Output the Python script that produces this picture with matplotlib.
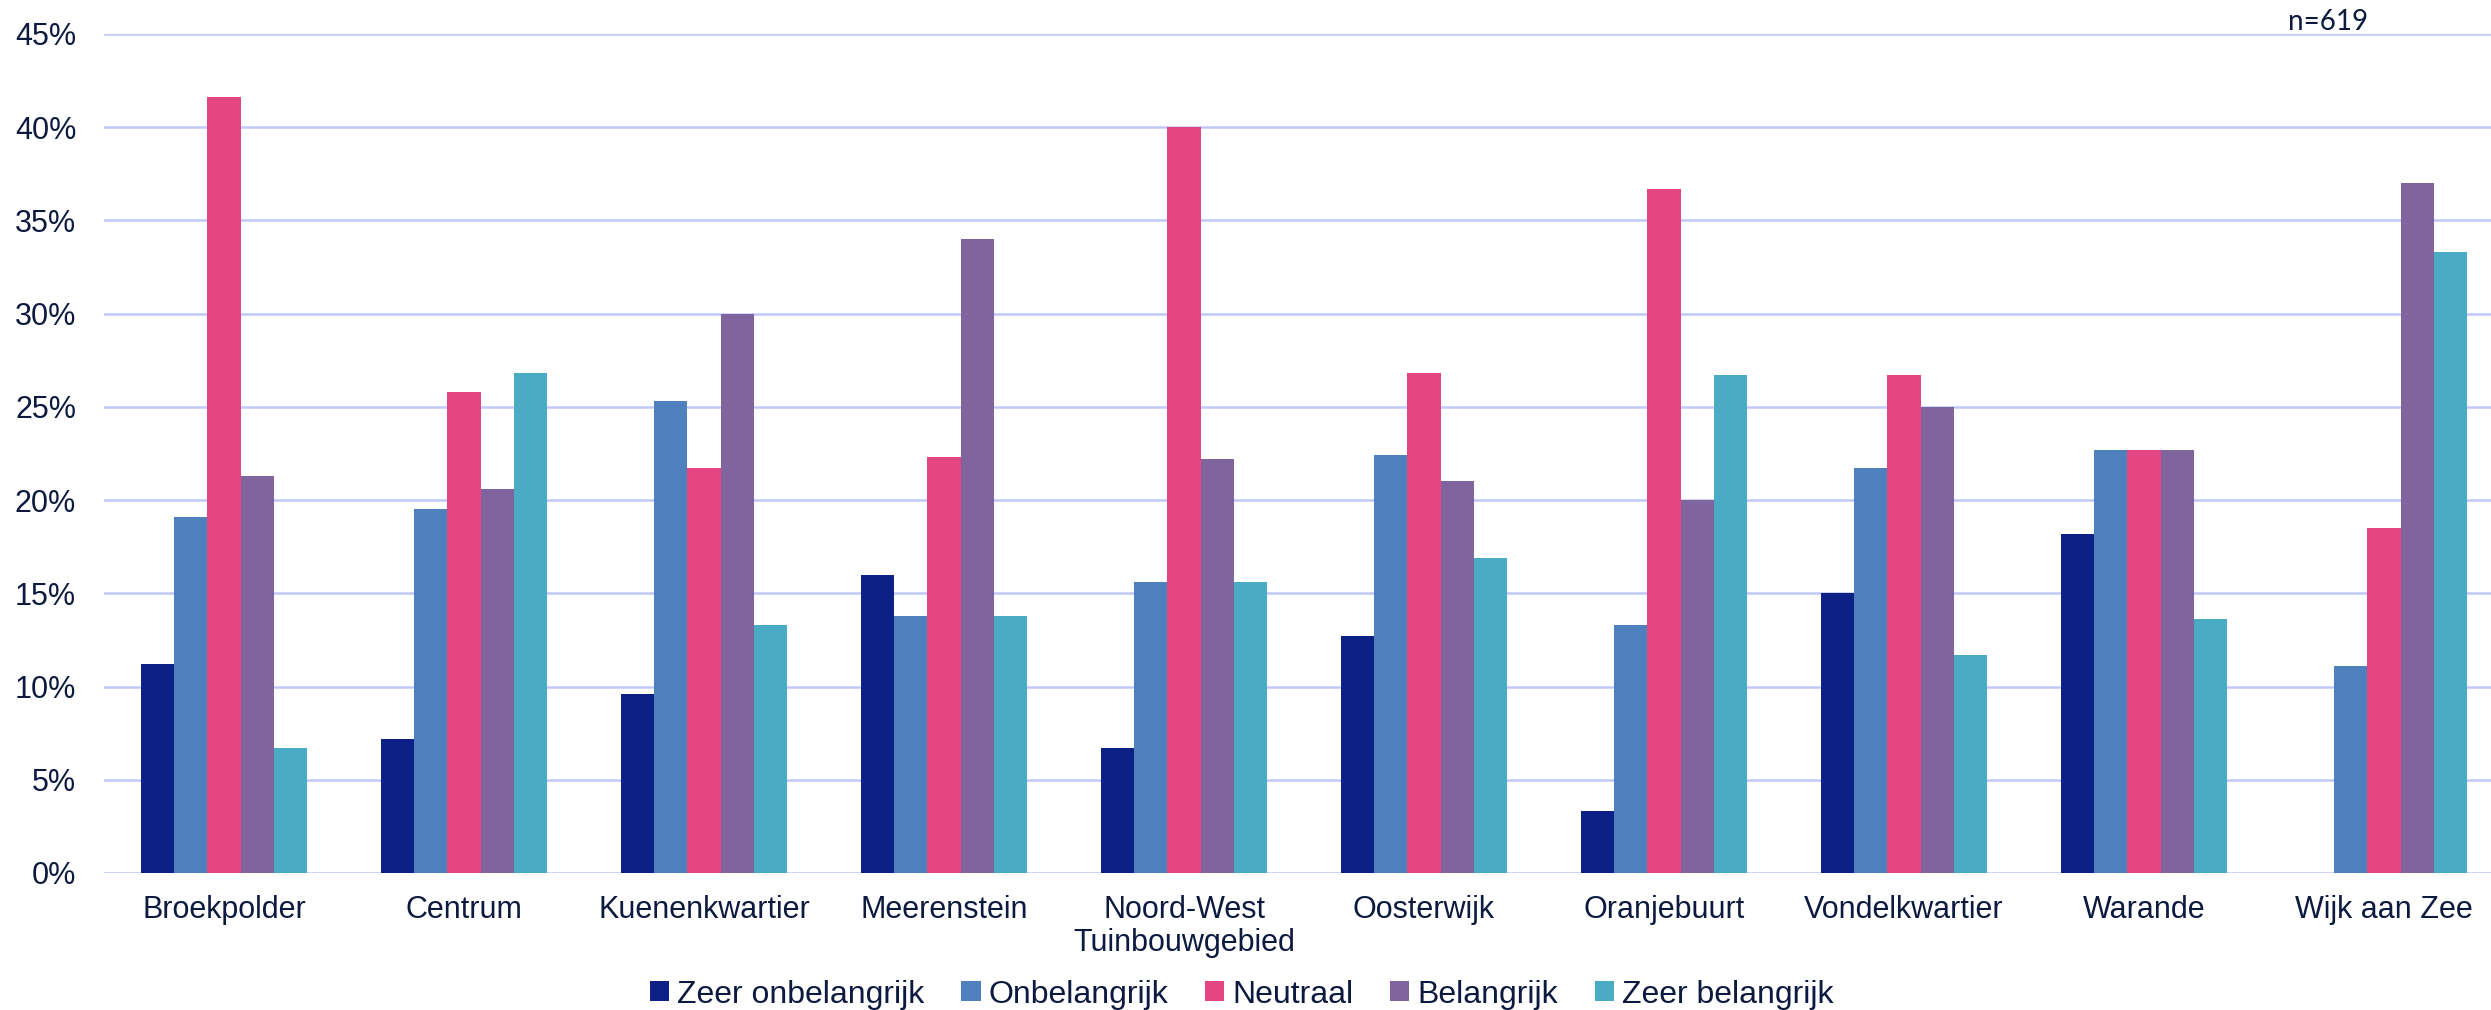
import numpy as np
import matplotlib.pyplot as plt

plt.rcParams['font.family'] = ['Liberation Sans', 'DejaVu Sans']

# --- Data -------------------------------------------------------------
wijken = ['Broekpolder', 'Centrum', 'Kuenenkwartier', 'Meerenstein',
          'Noord-West\nTuinbouwgebied', 'Oosterwijk', 'Oranjebuurt',
          'Vondelkwartier', 'Warande', 'Wijk aan Zee']
antwoorden = ['Zeer onbelangrijk', 'Onbelangrijk', 'Neutraal', 'Belangrijk',
              'Zeer belangrijk']

zeer_onbelangrijk = [11.2, 7.2, 9.6, 16.0, 6.7, 12.7, 3.3, 15.0, 18.2, 0.0]
onbelangrijk = [19.1, 19.5, 25.3, 13.8, 15.6, 22.4, 13.3, 21.7, 22.7, 11.1]
neutraal = [41.6, 25.8, 21.7, 22.3, 40.0, 26.8, 36.7, 26.7, 22.7, 18.5]
belangrijk = [21.3, 20.6, 30.0, 34.0, 22.2, 21.0, 20.0, 25.0, 22.7, 37.0]
zeer_belangrijk = [6.7, 26.8, 13.3, 13.8, 15.6, 16.9, 26.7, 11.7, 13.6, 33.3]

yticks = [0, 5, 10, 15, 20, 25, 30, 35, 40, 45]
n_label = 'n=619'

# --- Style --------------------------------------------------------------
kleuren = ['#0d2085', '#4d80bc', '#e34682', '#80649e', '#4aabc5']
tekst = '#0d1a40'
grid = '#c0c8fa'

series = [zeer_onbelangrijk, onbelangrijk, neutraal, belangrijk, zeer_belangrijk]

fig = plt.figure(figsize=(24.91, 10.10), dpi=100)
ax = fig.add_axes([104 / 2491, 137 / 1010, 2400 / 2491, 839 / 1010])

x = np.arange(len(wijken))
w = 0.1383
for i, (vals, kleur, naam) in enumerate(zip(series, kleuren, antwoorden)):
    ax.bar(x + (i - 2) * w, np.array(vals) / 100, width=w, color=kleur,
           label=naam, zorder=3)

ax.set_xlim(-0.5, len(wijken) - 0.5)
ax.set_ylim(0, 0.45)
ax.set_yticks([t / 100 for t in yticks])
ax.set_yticklabels([f'{t}%' for t in yticks])
ax.yaxis.grid(True, color=grid, lw=1.8, zorder=0)
ax.set_axisbelow(True)
for s in ax.spines.values():
    s.set_visible(False)

ax.set_xticks(x)
ax.set_xticklabels(wijken, linespacing=1.1)
ax.tick_params(axis='both', length=0, labelsize=22, labelcolor=tekst)
ax.tick_params(axis='y', pad=20)
ax.tick_params(axis='x', pad=16)

ax.text(2288 / 2491, 1 - 22 / 1010, n_label, transform=fig.transFigure,
        fontsize=20, color=tekst, va='center', ha='left', family='Lato')

fig.legend(loc='lower center', bbox_to_anchor=(0.4985, -0.028), ncol=5,
           frameon=False, fontsize=23, labelcolor=tekst,
           handlelength=0.6, handleheight=0.6, handletextpad=0.25,
           columnspacing=1.15)

fig.savefig('out.png', dpi=100)
